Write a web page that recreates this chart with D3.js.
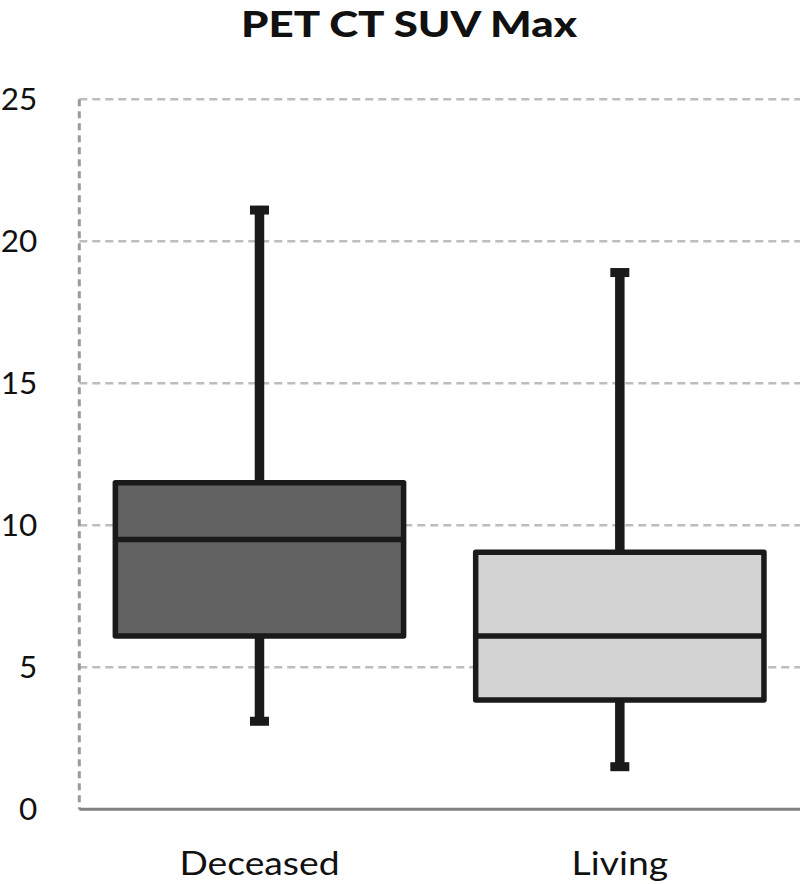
<!DOCTYPE html>
<html>
<head>
<meta charset="utf-8">
<script src="https://cdn.jsdelivr.net/npm/d3@7"></script>
<style>
  body { margin: 0; background: #fff; }
  text { font-family: Lato, "Liberation Sans", sans-serif; fill: #111; }
</style>
</head>
<body>
<div id="boxplot"></div>
<script>
// values
var categories = ["Deceased", "Living"]
var whiskerLow = [3.1, 1.5]
var q1 = [6.1, 3.85]
var median = [9.5, 6.1]
var q3 = [11.5, 9.05]
var whiskerHigh = [21.1, 18.9]
var yTicks = [0, 5, 10, 15, 20, 25]

var color = ["#626262", "#d3d3d3"]

var width = 800
var height = 884
var margin = {top: 99.3, right: 0, bottom: 74.7, left: 79.3}

var svg = d3.select("#boxplot")
  .append("svg")
  .attr("width", width)
  .attr("height", height)

var x = d3.scaleBand()
  .domain(categories)
  .range([margin.left, width - margin.right])
  .paddingInner(0.2)
  .paddingOuter(0.1)

var y = d3.scaleLinear()
  .domain([0, 25])
  .range([height - margin.bottom, margin.top])

// dashed gridlines
svg.append("g")
  .selectAll("line")
  .data(yTicks.filter(function(d){ return d > 0 }))
  .enter()
  .append("line")
    .attr("x1", margin.left)
    .attr("x2", width)
    .attr("y1", function(d){ return y(d) })
    .attr("y2", function(d){ return y(d) })
    .attr("stroke", "#bdbdbd")
    .attr("stroke-width", 2.5)
    .attr("stroke-dasharray", "8,5")

// left axis: dashed line + labels
svg.append("line")
  .attr("x1", margin.left).attr("x2", margin.left)
  .attr("y1", y(25)).attr("y2", y(0))
  .attr("stroke", "#9a9a9a")
  .attr("stroke-width", 3)
  .attr("stroke-dasharray", "7,5")

var yAxis = svg.append("g")
  .attr("transform", "translate(" + margin.left + ",0)")
  .call(d3.axisLeft(y).tickValues(yTicks).tickSize(0).tickPadding(42))
yAxis.select(".domain").remove()
yAxis.selectAll("text")
  .style("font-size", "31.5px")
  .style("font-family", "Lato, sans-serif")
  .attr("fill", "#111")

// bottom axis
var xAxis = svg.append("g")
  .attr("transform", "translate(0," + y(0) + ")")
  .call(d3.axisBottom(x).tickSize(0).tickPadding(42))
xAxis.select(".domain")
  .attr("stroke", "#808080")
  .attr("stroke-width", 3)
  .attr("d", "M" + margin.left + ",0H" + width)
xAxis.selectAll("text")
  .style("font-size", "33px")
  .style("font-family", "Lato, sans-serif")
  .attr("fill", "#111")
  .each(function(){
    // the original font runs a bit wider than Lato
    var w = this.getComputedTextLength()
    d3.select(this).attr("textLength", w * 1.13).attr("lengthAdjust", "spacingAndGlyphs")
  })

// boxes
var boxes = svg.append("g")
  .selectAll("g")
  .data(categories)
  .enter()
  .append("g")

var cx = function(i){ return x(categories[i]) + x.bandwidth() / 2 }

// whiskers
boxes.append("line")
  .attr("x1", function(d, i){ return cx(i) })
  .attr("x2", function(d, i){ return cx(i) })
  .attr("y1", function(d, i){ return y(whiskerLow[i]) })
  .attr("y2", function(d, i){ return y(whiskerHigh[i]) })
  .attr("stroke", "#1a1a1a")
  .attr("stroke-width", 9.5)

// whisker caps
boxes.each(function(d, i){
  var g = d3.select(this)
  ;[whiskerLow[i], whiskerHigh[i]].forEach(function(v){
    g.append("rect")
      .attr("x", cx(i) - 9.5)
      .attr("y", y(v) - 4.5)
      .attr("width", 19)
      .attr("height", 9)
      .attr("fill", "#1a1a1a")
  })
})

boxes.append("rect")
  .attr("x", function(d){ return x(d) })
  .attr("width", x.bandwidth())
  .attr("y", function(d, i){ return y(q3[i]) })
  .attr("height", function(d, i){ return y(q1[i]) - y(q3[i]) })
  .attr("fill", function(d, i){ return color[i] })
  .attr("stroke", "#1a1a1a")
  .attr("stroke-width", 5.5)
  .attr("stroke-linejoin", "round")

boxes.append("line")
  .attr("x1", function(d){ return x(d) })
  .attr("x2", function(d){ return x(d) + x.bandwidth() })
  .attr("y1", function(d, i){ return y(median[i]) })
  .attr("y2", function(d, i){ return y(median[i]) })
  .attr("stroke", "#1a1a1a")
  .attr("stroke-width", 5.5)

// title
svg.append("text")
  .attr("x", 409)
  .attr("y", 37)
  .attr("text-anchor", "middle")
  .attr("textLength", 336)
  .attr("lengthAdjust", "spacingAndGlyphs")
  .style("font-size", "36px")
  .style("font-weight", "900")
  .text("PET CT SUV Max")
</script>
</body>
</html>
